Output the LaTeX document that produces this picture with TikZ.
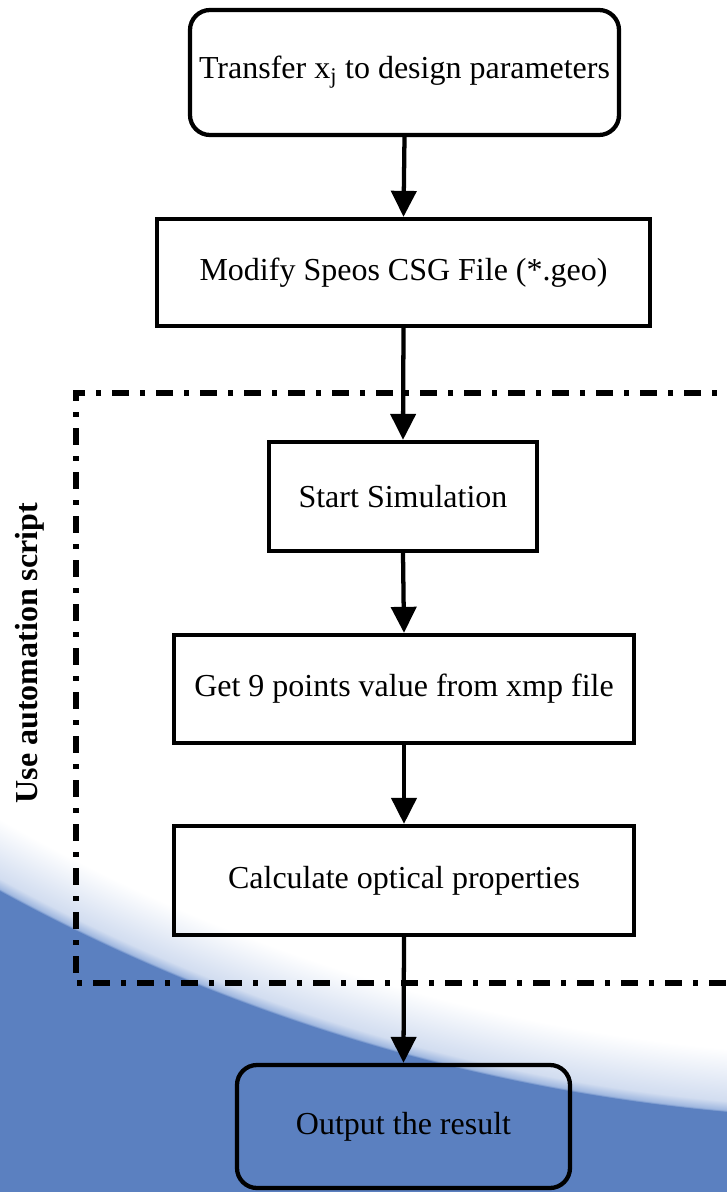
\documentclass[tikz,border=0pt]{standalone}
\usepackage{fontspec}
\setmainfont{Liberation Serif}
\usetikzlibrary{arrows.meta}
\definecolor{bgblue}{RGB}{91,128,192}
\definecolor{fadeblue}{RGB}{210,221,240}
\definecolor{midblue}{RGB}{160,184,224}
\pgfdeclareradialshading{halo}{\pgfpoint{0bp}{0bp}}{color(0bp)=(white); color(24.15bp)=(white); color(24.85bp)=(fadeblue); color(24.97bp)=(midblue); color(25bp)=(bgblue); color(50bp)=(bgblue)}
\begin{document}
\begin{tikzpicture}[x=0.75pt,y=-0.75pt,
  box/.style={draw=black, line width=3.2pt, inner sep=0pt, align=center,
    font=\fontsize{24}{28}\selectfont},
  rbox/.style={box, rounded corners=15pt},
  flow/.style={line width=3.2pt, -{Triangle[width=18.75pt,length=19.5pt]}},
  scriptline/.style={line width=4.2pt, dash pattern=on 12.75pt off 8.25pt on 3.75pt off 8.25pt}]
\useasboundingbox (0,0) rectangle (727,1192);
\clip (0,0) rectangle (727,1192);
% background
\fill[bgblue] (0,0) rectangle (727,1192);
\coordinate (hc) at (893,-742);
\shade[shading=halo] (hc) circle[radius=1396pt];
% nodes
\node[rbox, minimum width=321.75pt, minimum height=93.75pt] (b1) at (404.5,72.5) {Transfer x\textsubscript{j} to design parameters};
\node[box, minimum width=369.75pt, minimum height=80.25pt] (b2) at (403.5,272.5) {Modify Speos CSG File (*.geo)};
\node[box, minimum width=201pt, minimum height=81.75pt] (b3) at (403,496.5) {Start Simulation};
\node[box, minimum width=345pt, minimum height=81pt] (b4) at (404,689) {Get 9 points value from xmp file};
\node[box, minimum width=345pt, minimum height=81.75pt] (b5) at (404,880.5) {Calculate optical properties};
\node[rbox, minimum width=249.75pt, minimum height=92.25pt] (b6) at (403.5,1126.5) {Output the result};
% automation script frame
\coordinate (ftr) at (745,393);
\coordinate (ftl) at (76,393);
\coordinate (fbl) at (76,983);
\coordinate (fbr) at (745,983);
\draw[scriptline] (ftr) -- (ftl) -- (fbl) -- (fbr);
\node[rotate=90, font=\fontsize{24}{28}\selectfont\bfseries] (lab) at (30,653) {Use automation script};
% connectors
\draw[flow] (b1.south) -- (b2.north);
\draw[flow] (b2.south) -- (b3.north);
\draw[flow] (b3.south) -- (b4.north);
\draw[flow] (b4.south) -- (b5.north);
\draw[flow] (b5.south) -- (b6.north);
\end{tikzpicture}
\end{document}
